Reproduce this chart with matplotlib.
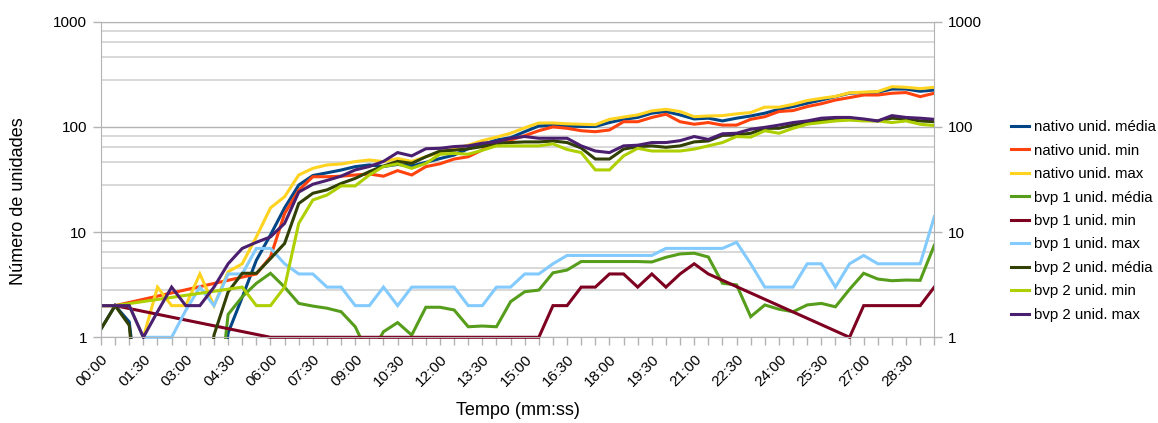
import numpy as np
import matplotlib
matplotlib.use('Agg')
import matplotlib.pyplot as plt
from matplotlib.ticker import FixedLocator, NullFormatter
from matplotlib.transforms import Bbox, TransformedBbox

nan = np.nan

# one sample every 30 s, 00:00 .. 29:30
times = ['%02d:%02d' % (i // 2, 30 * (i % 2)) for i in range(60)]

nativo_media = [1.2, 2, 1.4, 0.1, 0.1, 0.1, 0.1, 0.1, 0.1, 1.1, 2.4, 5.4, 9.4, 17, 28, 34.5, 36.6, 38.9, 41.9, 43.5,
                42, 44, 42.5, 46, 50, 54, 62, 68, 75, 79, 90, 102, 104, 102, 101, 101, 110, 118, 123, 135,
                140, 130, 119, 121, 114, 121, 127, 135, 147, 156, 168, 180, 194, 209, 212, 214, 229, 229, 218, 224]
nativo_min = [2, 2, nan, nan, nan, nan, nan, nan, nan, nan, nan, 4.0, 5.8, 15, 25, 33.6, 33.6, 34, 34.9, 35.7,
              34, 38.4, 34.9, 41.9, 44.6, 49.5, 52, 60.4, 68.8, 75, 82.5, 92, 100, 97, 92, 90, 93.5, 112, 112, 123,
              132, 112, 106, 110, 104, 104, 118, 125, 140, 143, 156, 166, 180, 190, 201, 201, 209, 212, 194, 209]
nativo_max = [2, 2, 2, 1, 3, 2, 2, 4, 2, 4.2, 5, 9, 17, 21.7, 34.9, 40.4, 43.5, 44.4, 46.8, 48.5,
              46.8, 50, 47, 52, 57, 62, 67, 74, 80, 87, 98, 109, 109, 107, 106, 105, 118, 124, 130, 142,
              147, 140, 125, 127, 128, 133, 137, 154, 154, 164, 178, 187, 195, 211, 214, 217, 241, 238, 231, 238]
bvp1_media = [0.1, 0.1, 0.1, 0.1, 0.1, 0.1, 0.1, 0.1, 0.1, 1.65, 2.43, 3.26, 4.06, 3.0, 2.1, 1.98, 1.89, 1.75, 1.26, 0.66,
              1.13, 1.38, 1.05, 1.93, 1.93, 1.82, 1.26, 1.28, 1.26, 2.18, 2.71, 2.81, 4.1, 4.36, 5.25, 5.25, 5.25, 5.25, 5.25, 5.2,
              5.76, 6.2, 6.3, 5.8, 3.26, 3.15, 1.57, 2.03, 1.85, 1.75, 2.03, 2.1, 1.95, 2.86, 4.06, 3.58, 3.45, 3.5, 3.48, 7.5]
bvp1_min = [2, 2, nan, nan, nan, nan, nan, nan, nan, nan, nan, nan, 1, 1, 1, 1, 1, 1, 1, 1,
            1, 1, 1, 1, 1, 1, 1, 1, 1, 1, 1, 1, 2, 2, 3, 3, 4, 4, 3, 4,
            3, 4, 5, 4, nan, nan, nan, nan, nan, nan, nan, nan, nan, 1, 2, 2, 2, 2, 2, 3]
bvp1_max = [2, 2, 2, 1, 1, 1, 1.8, 3, 2, 4, 4, 7, 7, 5, 4, 4, 3, 3, 2, 2,
            3, 2, 3, 3, 3, 3, 2, 2, 3, 3, 4, 4, 5, 6, 6, 6, 6, 6, 6, 6,
            7, 7, 7, 7, 7, 8, 5, 3, 3, 3, 5, 5, 3, 5, 6, 5, 5, 5, 5, 14]
bvp2_media = [1.2, 2, 1.3, 0.05, 0.05, 0.05, 0.05, 0.05, 1.05, 2.7, 4.06, 4.06, 5.6, 7.8, 18.7, 23.4, 25.2, 29, 32.4, 37.6,
              42.5, 47, 45, 52, 59, 60, 62, 65, 70, 71, 72, 72, 73.5, 71, 63, 49.5, 49.5, 61.5, 65, 66,
              64, 66, 72, 73.5, 83, 84, 87, 97, 97, 104, 110, 114, 119, 121, 116, 114, 121, 119, 114, 112]
bvp2_min = [2, 2, nan, nan, nan, nan, nan, nan, nan, nan, 3, 2, 2, 3, 12.1, 20.2, 22.5, 27.5, 27.5, 34.9,
            42, 44.5, 40.4, 45, 55, 56, 55, 60, 66, 66, 66, 66, 69, 61, 57, 39, 39, 53, 62.6, 59,
            59, 59, 61.5, 66, 71, 81, 80, 92, 87, 97, 106, 110, 114, 116, 114, 114, 110, 114, 106, 103]
bvp2_max = [2, 2, 2, 1, 1.75, 3, 2, 2, 3, 5, 7, 8, 9, 12.1, 24, 28.5, 31, 34, 39, 42,
            47, 57, 53, 62, 62.6, 65, 66, 70, 72, 78, 81, 78, 78, 78, 66, 59, 57, 66, 67, 71,
            71, 74, 81, 76, 86, 87, 95, 99, 104, 110, 114, 121, 123, 123, 119, 114, 128, 123, 121, 118]

series = [
    ('nativo unid. média', nativo_media, '#004586'),
    ('nativo unid. min', nativo_min, '#ff420e'),
    ('nativo unid. max', nativo_max, '#ffd320'),
    ('bvp 1 unid. média', bvp1_media, '#579d1c'),
    ('bvp 1 unid. min', bvp1_min, '#7e0021'),
    ('bvp 1 unid. max', bvp1_max, '#83caff'),
    ('bvp 2 unid. média', bvp2_media, '#314004'),
    ('bvp 2 unid. min', bvp2_min, '#aecf00'),
    ('bvp 2 unid. max', bvp2_max, '#4b1f6f'),
]

plt.rcParams['font.family'] = ['Liberation Sans', 'DejaVu Sans']

fig = plt.figure(figsize=(11.58, 4.23), dpi=100)
ax = fig.add_axes([101 / 1158, 1 - 337.3 / 423, 833.3 / 1158, 315.6 / 423])

x = np.arange(len(times))
clip = TransformedBbox(Bbox([[0, -0.006], [1, 1]]), ax.transAxes)
for name, vals, col in series:
    v = np.array(vals, dtype=float)
    ok = ~np.isnan(v)  # empty cells: line continues over them
    ln, = ax.plot(x[ok], v[ok], color=col, lw=2.2, label=name, solid_joinstyle='miter')
    ln.set_clip_box(clip)

ax.set_yscale('log')
ax.set_ylim(1, 1000)
ax.set_xlim(0, len(times) - 1)

ax.yaxis.set_major_locator(FixedLocator([1, 10, 100, 1000]))
ax.yaxis.set_major_formatter(plt.FuncFormatter(lambda v, p: '%d' % v))
ax.yaxis.set_minor_locator(FixedLocator([2.8, 4.6, 6.4, 8.2, 28, 46, 64, 82, 280, 460, 640, 820]))
ax.yaxis.set_minor_formatter(NullFormatter())
ax.grid(True, axis='y', which='major', color='#b3b3b3', lw=1)
ax.grid(True, axis='y', which='minor', color='#d6d6d6', lw=1.3)
ax.set_axisbelow(True)

ax.set_xticks(x)
ax.set_xticklabels([t if i % 3 == 0 else '' for i, t in enumerate(times)],
                   rotation=45, ha='right', rotation_mode='anchor', fontsize=11)

ax.tick_params(axis='both', which='major', color='#b3b3b3', length=6, width=1, labelsize=11)
ax.tick_params(axis='x', pad=5)
ax.tick_params(axis='y', which='major', left=True, right=True, labelleft=True, labelright=True, pad=4)
ax.tick_params(axis='y', which='minor', length=0)
for s in ax.spines.values():
    s.set_color('#b3b3b3')

ax.set_ylabel('Número de unidades', fontsize=13, va='center')
ax.yaxis.set_label_coords(-0.0996, 0.43)
ax.set_xlabel('Tempo (mm:ss)', fontsize=13, va='center')
ax.xaxis.set_label_coords(0.5, -0.2335)

leg = fig.legend(loc='center left', bbox_to_anchor=(1011 / 1158, 1 - 221 / 423), frameon=False,
                 fontsize=10.8, handlelength=1.2, handletextpad=0.3, labelspacing=0.63,
                 borderpad=0, borderaxespad=0)

fig.savefig('out.png', dpi=100)
